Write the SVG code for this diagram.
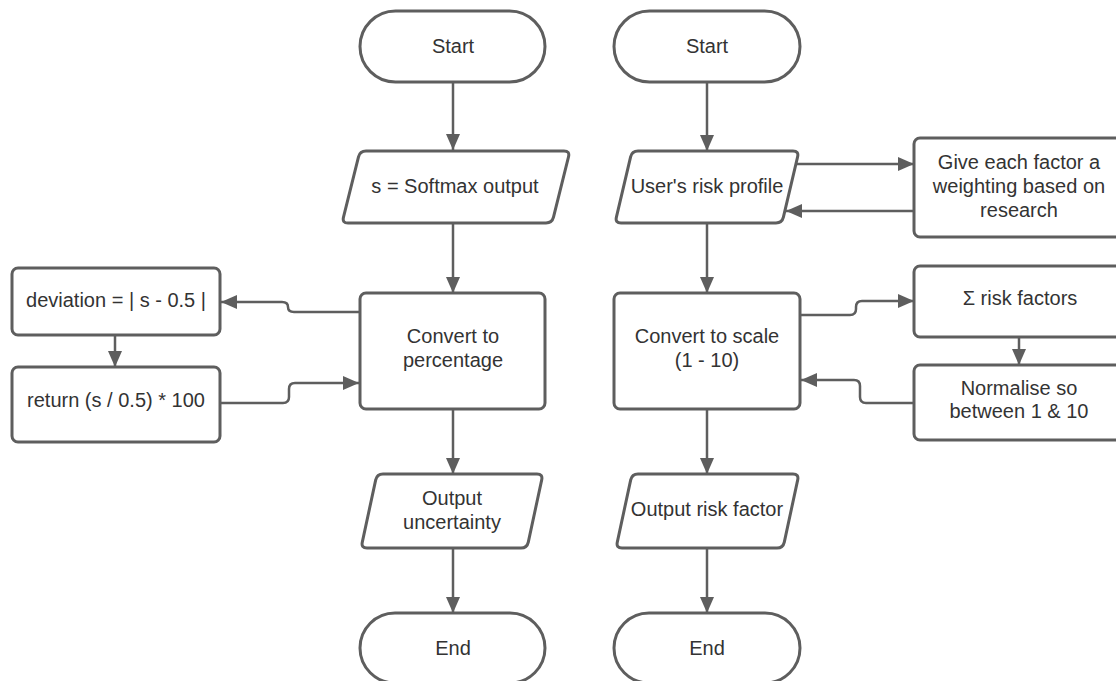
<svg xmlns="http://www.w3.org/2000/svg" width="1116" height="681" viewBox="0 0 1116 681">
<style>
.s{fill:#ffffff;stroke:#5e5e5e;stroke-width:3;stroke-linejoin:round}
.c{fill:none;stroke:#5e5e5e;stroke-width:2.5}
text{font-family:"Liberation Sans",Arial,sans-serif;font-size:20px;fill:#333333;text-anchor:middle}
</style>
<defs>
<marker id="ah" markerUnits="userSpaceOnUse" markerWidth="18" markerHeight="16" refX="16" refY="7" orient="auto">
<path d="M0,0 L16,7 L0,14 Z" fill="#5e5e5e"/>
</marker>
</defs>
<rect width="1116" height="681" fill="#ffffff"/>
<g id="connectors">
<path class="c" d="M453,83 V150" marker-end="url(#ah)"/>
<path class="c" d="M453,223 V293" marker-end="url(#ah)"/>
<path class="c" d="M453,409 V474" marker-end="url(#ah)"/>
<path class="c" d="M453,548 V613" marker-end="url(#ah)"/>
<path class="c" d="M707,83 V151" marker-end="url(#ah)"/>
<path class="c" d="M707,223 V293" marker-end="url(#ah)"/>
<path class="c" d="M707,409 V474" marker-end="url(#ah)"/>
<path class="c" d="M707,548 V613" marker-end="url(#ah)"/>
<path class="c" d="M115,335 V367" marker-end="url(#ah)"/>
<path class="c" d="M1019,337 V365" marker-end="url(#ah)"/>
<path class="c" d="M360,312 H294 Q288,312 288,307 Q288,302 282,302 H221" marker-end="url(#ah)"/>
<path class="c" d="M220,403 H283 Q289,403 289,397 V389 Q289,383 295,383 H359" marker-end="url(#ah)"/>
<path class="c" d="M797,164 H914" marker-end="url(#ah)"/>
<path class="c" d="M914,211 H786" marker-end="url(#ah)"/>
<path class="c" d="M800,315 H850 Q856,315 856,309 V307 Q856,301 862,301 H914" marker-end="url(#ah)"/>
<path class="c" d="M914,403 H866 Q860,403 860,397 V386 Q860,380 854,380 H801" marker-end="url(#ah)"/>
</g>
<g id="start1">
<rect class="s" x="360" y="11" width="185" height="71" rx="35.5"/>
<text x="453" y="53">Start</text>
</g>
<g id="softmax">
<path class="s" d="M366,151 H564 Q570,151 568.5,156.8 L553.5,217.2 Q552,223 546,223 H348 Q342,223 343.5,217.2 L358.5,156.8 Q360,151 366,151 Z"/>
<text x="455" y="193">s = Softmax output</text>
</g>
<g id="convertpct">
<rect class="s" x="360" y="293" width="185" height="116" rx="6"/>
<text x="453" y="343">Convert to</text>
<text x="453" y="367">percentage</text>
</g>
<g id="deviation">
<rect class="s" x="12" y="268" width="208" height="67" rx="6"/>
<text x="116" y="307">deviation = | s - 0.5 |</text>
</g>
<g id="return">
<rect class="s" x="12" y="367" width="208" height="75" rx="6"/>
<text x="116" y="407">return (s / 0.5) * 100</text>
</g>
<g id="outunc">
<path class="s" d="M383,474 H537 Q543,474 541.7,479.9 L528.3,542.1 Q527,548 521,548 H367 Q361,548 362.3,542.1 L375.7,479.9 Q377,474 383,474 Z"/>
<text x="452" y="505">Output</text>
<text x="452" y="529">uncertainty</text>
</g>
<g id="end1">
<rect class="s" x="360" y="613" width="185" height="70" rx="35"/>
<text x="453" y="655">End</text>
</g>
<g id="start2">
<rect class="s" x="614" y="11" width="186" height="71" rx="35.5"/>
<text x="707" y="53">Start</text>
</g>
<g id="riskprofile">
<path class="s" d="M638,151 H793 Q799,151 797.6,156.8 L783.4,217.2 Q782,223 776,223 H621 Q615,223 616.4,217.2 L630.6,156.8 Q632,151 638,151 Z"/>
<text x="707" y="193">User's risk profile</text>
</g>
<g id="weighting">
<rect class="s" x="914" y="138" width="212" height="99" rx="6"/>
<text x="1019" y="169">Give each factor a</text>
<text x="1019" y="193">weighting based on</text>
<text x="1019" y="217">research</text>
</g>
<g id="convertscale">
<rect class="s" x="614" y="293" width="186" height="116" rx="6"/>
<text x="707" y="343">Convert to scale</text>
<text x="707" y="367">(1 - 10)</text>
</g>
<g id="sum">
<rect class="s" x="914" y="266" width="212" height="71" rx="6"/>
<text x="1020" y="305">Σ risk factors</text>
</g>
<g id="normalise">
<rect class="s" x="914" y="365" width="212" height="75" rx="6"/>
<text x="1019" y="395">Normalise so</text>
<text x="1019" y="418">between 1 &amp; 10</text>
</g>
<g id="outrisk">
<path class="s" d="M638,474 H793 Q799,474 797.7,479.9 L784.3,542.1 Q783,548 777,548 H622 Q616,548 617.3,542.1 L630.7,479.9 Q632,474 638,474 Z"/>
<text x="707" y="516">Output risk factor</text>
</g>
<g id="end2">
<rect class="s" x="614" y="613" width="186" height="70" rx="35"/>
<text x="707" y="655">End</text>
</g>
</svg>
